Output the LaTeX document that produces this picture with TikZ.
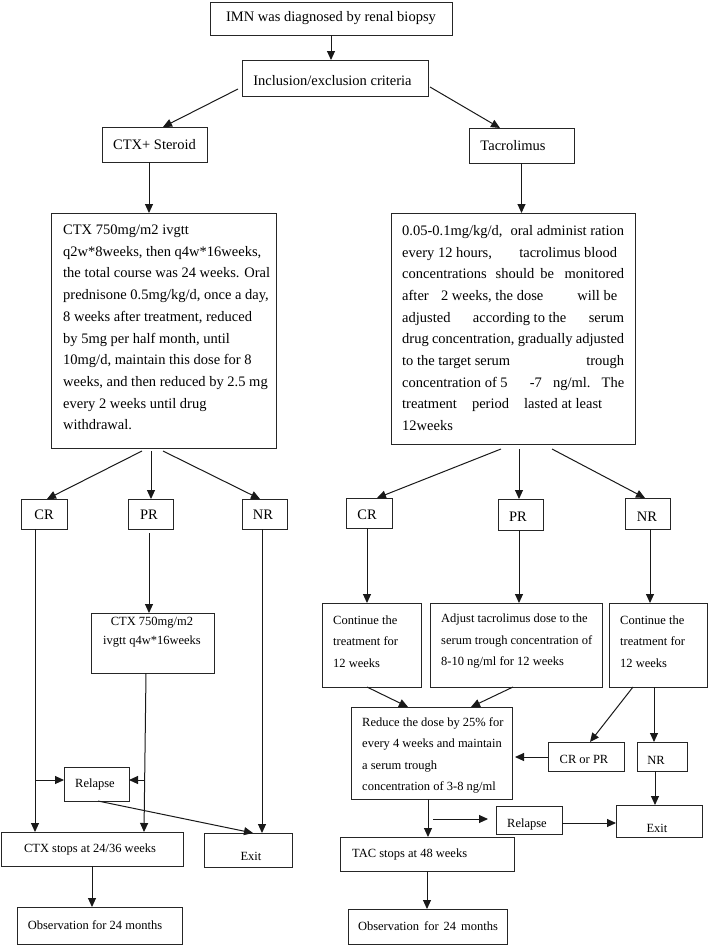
\documentclass[tikz,border=0pt]{standalone}
\usepackage{fontspec}
\setmainfont{Liberation Serif}
\usetikzlibrary{arrows.meta,fit,calc}
\begin{document}
\begin{tikzpicture}[x=1pt,y=-1pt,
  box/.style={draw=black!85, line width=0.95pt, inner sep=0pt, outer sep=0pt},
  arr/.style={draw=black!90, line width=1pt, -{Triangle[length=9pt,width=8pt]}},
  tbig/.style={font=\fontsize{14.5}{21.7}\selectfont, inner sep=0pt, align=left},
  tsml/.style={font=\fontsize{12.5}{21.5}\selectfont, inner sep=0pt, align=left},
]
\fill[white] (0,0) rectangle (709,945);
\useasboundingbox (0,0) rectangle (709,945);

% ---- boxes ----
\node[box, fit={(210,2) (452,35)}] (imn) {};
\node[box, fit={(242,60) (428,96)}] (incl) {};
\node[box, fit={(102,127) (207,162)}] (ctxs) {};
\node[box, fit={(469,128) (574,163)}] (tac) {};
\node[box, fit={(51,213) (276,448)}] (ctxbig) {};
\node[box, fit={(391,213) (635,444)}] (tacbig) {};
\node[box, fit={(21,499) (67,529)}] (lcr) {};
\node[box, fit={(128,499) (173,529)}] (lpr) {};
\node[box, fit={(242,499) (287,529)}] (lnr) {};
\node[box, fit={(91,613) (214,673)}] (ctx750) {};
\node[box, fit={(346,498) (392,528)}] (rcr) {};
\node[box, fit={(498,499) (543,530)}] (rpr) {};
\node[box, fit={(625,498) (670,529)}] (rnr) {};
\node[box, fit={(322,603) (421,687)}] (cont1) {};
\node[box, fit={(430,603) (602,687)}] (adj) {};
\node[box, fit={(609,603) (707,687)}] (cont2) {};
\node[box, fit={(351,707) (512,799)}] (reduce) {};
\node[box, fit={(548,742) (624,771)}] (crpr) {};
\node[box, fit={(637,742) (687,771)}] (rnr2) {};
\node[box, fit={(64,767) (129,801)}] (lrel) {};
\node[box, fit={(1,832) (183,866)}] (ctxstop) {};
\node[box, fit={(204,833) (292,867)}] (lexit) {};
\node[box, fit={(17,907) (182,944)}] (lobs) {};
\node[box, fit={(496,806) (562,834)}] (rrel) {};
\node[box, fit={(616,805) (702,837)}] (rexit) {};
\node[box, fit={(340,837) (514,871)}] (tacstop) {};
\node[box, fit={(348,909) (507,944)}] (robs) {};

% ---- texts ----
\node[tbig] (imn-t) at (331,18) {IMN was diagnosed by renal biopsy};
\node[tbig] (incl-t) at (332.5,81) {Inclusion/exclusion criteria};
\node[tbig] (ctxs-t) at (154.5,145) {CTX+ Steroid};
\node[tbig] (tac-t) at (513,146) {Tacrolimus};
\node[tbig, anchor=west] (ctxbig-t) at (63,327.5) {CTX 750mg/m2 ivgtt\\
q2w*8weeks, then q4w*16weeks,\\
the total course was 24 weeks. Oral\\
prednisone 0.5mg/kg/d, once a day,\\
8 weeks after treatment, reduced\\
by 5mg per half month, until\\
10mg/d, maintain this dose for 8\\
weeks, and then reduced by 2.5 mg\\
every 2 weeks until drug\\
withdrawal.};
\node[tbig, anchor=west] (tacbig-t) at (402,328) {\makebox[222pt][s]{0.05-0.1mg/kg/d,\hspace{0.3em} oral administ ration}\\
\makebox[215pt][s]{every 12 hours,\hfill tacrolimus blood}\\
\makebox[222pt][s]{concentrations\hspace{0.2em} should be\hspace{0.3em} monitored}\\
\makebox[215pt][s]{after\hspace{0.6em} 2 weeks, the dose\hfill will be}\\
\makebox[222pt][s]{adjusted\hfill according to the\hfill serum}\\
\makebox[222pt][s]{drug concentration, gradually adjusted}\\
\makebox[222pt][s]{to the target serum\hfill trough}\\
\makebox[222pt][s]{concentration of 5\hfill\hfill -7\hfill ng/ml.\hfill The}\\
\makebox[200pt][s]{treatment\hfill period\hfill lasted at least}\\
12weeks};
\node[tbig] (lcr-t) at (44,515) {CR};
\node[tbig] (lpr-t) at (149,515) {PR};
\node[tbig] (lnr-t) at (263,515) {NR};
\node[tsml, align=center, font=\fontsize{12.5}{19}\selectfont] (c750-t) at (152,632) {CTX 750mg/m2\\ivgtt q4w*16weeks};
\node[tbig] (rcr-t) at (367,515) {CR};
\node[tbig] (rpr-t) at (518,517) {PR};
\node[tbig] (rnr-t) at (647,517) {NR};
\node[tsml, anchor=west] (cont1-t) at (333,641.5) {Continue the\\treatment for\\12 weeks};
\node[tsml, anchor=west] (adj-t) at (441,641.5) {Adjust tacrolimus dose to the\\serum trough concentration of\\8-10 ng/ml for 12 weeks};
\node[tsml, anchor=west] (cont2-t) at (620,641.5) {Continue the\\treatment for\\12 weeks};
\node[tsml, anchor=west] (reduce-t) at (362,755.5) {Reduce the dose by 25\% for\\every 4 weeks and maintain\\a serum trough\\concentration of 3-8 ng/ml};
\node[tsml] (crpr-t) at (584,759) {CR or PR};
\node[tsml] (rnr2-t) at (656,760) {NR};
\node[tsml] (lrel-t) at (95,784) {Relapse};
\node[tsml] (ctxstop-t) at (90,849) {CTX stops at 24/36 weeks};
\node[tsml] (lexit-t) at (251,856) {Exit};
\node[tsml] (lobs-t) at (95,925) {Observation for 24 months};
\node[tsml] (rrel-t) at (527,824) {Relapse};
\node[tsml] (rexit-t) at (657,828) {Exit};
\node[tsml, anchor=west] (tacstop-t) at (352,854) {TAC stops at 48 weeks};
\node[tsml] (robs-t) at (428,926) {Observation\hspace{0.15em} for\hspace{0.15em} 24\hspace{0.15em} months};

% ---- connectors ----
\draw[arr] (imn.south) -- (imn.south |- incl.north);
\draw[arr] ($(incl.west)+(-4,11)$) -- ($(ctxs.north)+(8.5,0)$);
\draw[arr] ($(incl.east)+(2,9)$) -- ($(tac.north)+(-21.5,0)$);
\draw[arr] ($(ctxs.south)+(-5.5,0)$) -- ($(ctxbig.north)+(-14.5,0)$);
\draw[arr] (tac.south) -- (tac.south |- tacbig.north);

\draw[arr] ($(ctxbig.south)+(-21.5,3)$) -- ($(lcr.north)+(3,0)$);
\draw[arr] ($(ctxbig.south)+(-12.5,3)$) -- ($(lpr.north)+(0.5,0)$);
\draw[arr] ($(ctxbig.south)+(-0.5,3)$) -- ($(lnr.north)+(-4.5,0)$);
\draw[arr] ($(lpr.south)+(-1.5,4)$) -- ($(ctx750.north)+(-3.5,0)$);
\draw[arr] ($(lcr.south)+(-9,0)$) -- ($(ctxstop.north)+(-57,0)$);
\draw[arr] ($(ctx750.south)+(-6.5,0)$) -- ($(ctxstop.north)+(52,0)$);
\draw[arr] ($(lnr.south)+(-2.5,0)$) -- ($(lexit.north)+(14,0)$);
\draw[arr] ($(lcr.south)+(-9,251)$) -- ($(lrel.west)+(0,-4)$);
\draw[arr] ($(lrel.east)+(15,-4)$) -- ($(lrel.east)+(0,-4)$);
\draw[arr] ($(lrel.south)+(1.5,0)$) -- ($(lexit.north)+(5,0)$);
\draw[arr] (ctxstop.south) -- ($(lobs.north)+(-7.5,0)$);

\draw[arr] ($(tacbig.south)+(-12,5)$) -- ($(rcr.north)+(8,0)$);
\draw[arr] ($(tacbig.south)+(6,5)$) -- ($(rpr.north)+(-1.5,0)$);
\draw[arr] ($(tacbig.south)+(39,5)$) -- ($(rnr.north)+(-2.5,0)$);
\draw[arr] ($(rcr.south)+(-2,0)$) -- ($(cont1.north)+(-4.5,0)$);
\draw[arr] ($(rpr.south)+(-1.5,0)$) -- ($(adj.north)+(3,0)$);
\draw[arr] ($(rnr.south)+(2.5,0)$) -- ($(cont2.north)+(-8,0)$);
\draw[arr] ($(cont1.south)+(-4.5,0)$) -- ($(reduce.north)+(-23.5,0)$);
\draw[arr] ($(adj.south)+(-3,0)$) -- ($(reduce.north)+(39.5,0)$);
\draw[arr] ($(cont2.south)+(-25,0)$) -- ($(crpr.north)+(4,0)$);
\draw[arr] ($(cont2.south)+(-4,0)$) -- ($(rnr2.north)+(-8,0)$);
\draw[arr] ($(crpr.west)+(0,0.5)$) -- ($(reduce.east)+(3,4)$);
\draw[arr] ($(rnr2.south)+(-7,0)$) -- ($(rexit.north)+(-4,0)$);
\draw[arr] ($(reduce.south)+(-3.5,0)$) -- ($(tacstop.north)+(1,0)$);
\coordinate (f1) at ($(reduce.south)+(1.5,20)$);
\coordinate (f2) at ($(rrel.west)+(-8,-1)$);
\draw[arr] (f1) -- (f2);
\draw[arr] ($(rrel.east)+(0,3)$) -- ($(rexit.west)+(0,2)$);
\draw[arr] (tacstop.south) -- ($(robs.north)+(-0.5,0)$);
\end{tikzpicture}
\end{document}
